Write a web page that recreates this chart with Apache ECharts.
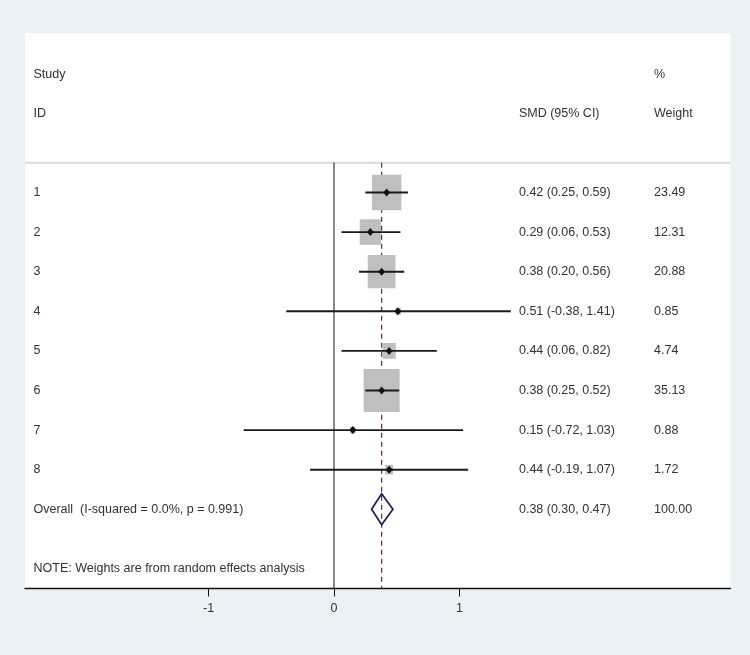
<!DOCTYPE html>
<html><head><meta charset="utf-8">
<script src="https://cdn.jsdelivr.net/npm/echarts@6/dist/echarts.min.js"></script>
<style>html,body{margin:0;padding:0;background:#eaf2f5;}#c{width:750px;height:655px;}</style>
</head><body><div id="c"></div>
<script>
// ---- data ----
const studyIds = ['1','2','3','4','5','6','7','8'];
const smd      = [0.42, 0.29, 0.38, 0.51, 0.44, 0.38, 0.15, 0.44];
const ciLow    = [0.25, 0.06, 0.20, -0.38, 0.06, 0.25, -0.72, -0.19];
const ciHigh   = [0.59, 0.53, 0.56, 1.41, 0.82, 0.52, 1.03, 1.07];
const weights  = [23.49, 12.31, 20.88, 0.85, 4.74, 35.13, 0.88, 1.72];
const overall  = {label:'Overall  (I-squared = 0.0%, p = 0.991)', smd:0.38, lo:0.30, hi:0.47, weight:100.00};
const note     = 'NOTE: Weights are from random effects analysis';
const xTicks   = [-1, 0, 1];

const fmt = v => v.toFixed(2);
const ciText = (m,l,h) => fmt(m)+' ('+fmt(l)+', '+fmt(h)+')';

const rows = studyIds.map((id,i)=>[i+1, smd[i], ciLow[i], ciHigh[i], weights[i], i]);

const FONT = '"Liberation Sans", Arial, sans-serif';
const FS = 12.5;
const TXT = '#333333';
const XMIN = -2.464, XMAX = 3.162;
const YMIN = -3.02, YMAX = 11.0;
const COL_LABEL = -2.396, COL_SMD = 1.475, COL_W = 2.552;

function txt(x, y, s){
  return {type:'text', x:x, y:y, style:{text:s, fill:TXT, font: FS+'px '+FONT, verticalAlign:'middle', align:'left'}};
}

const chart = echarts.init(document.getElementById('c'), null, {renderer:'canvas'});
chart.setOption({
  backgroundColor:'#eaf2f5',
  animation:false,
  grid:{left:25, right:19.5, top:33.3, bottom:66.5, show:true, backgroundColor:'#ffffff', borderWidth:0},
  xAxis:{type:'value', min:XMIN, max:XMAX,
    axisLine:{show:true, onZero:false, lineStyle:{color:'#111', width:1.4}},
    axisTick:{show:true, customValues:xTicks, length:8, lineStyle:{color:'#111', width:1}},
    axisLabel:{show:true, customValues:xTicks, color:TXT, fontSize:FS, fontFamily:FONT, margin:14},
    splitLine:{show:false}},
  yAxis:{type:'value', inverse:true, min:YMIN, max:YMAX, show:false},
  series:[
    { // header, reference lines, overall
      type:'custom', silent:true, clip:false,
      data:[[0]],
      renderItem:function(params, api){
        const left = api.coord([XMIN,0])[0], right = api.coord([XMAX,0])[0];
        const yTop = api.coord([0,0.247])[1], yBot = api.coord([0,YMAX])[1];
        const x0 = api.coord([0,0])[0], xo = api.coord([overall.smd,0])[0];
        const ch = [];
        ch.push({type:'line', shape:{x1:left,y1:yTop,x2:right,y2:yTop}, style:{stroke:'#d9d9d9', lineWidth:2}});
        ch.push({type:'line', shape:{x1:x0,y1:yTop,x2:x0,y2:yBot}, style:{stroke:'#111', lineWidth:1}});
        ch.push({type:'line', shape:{x1:xo,y1:yTop,x2:xo,y2:yBot}, style:{stroke:'#8b1a2a', lineWidth:1.2, lineDash:[5,4]}});
        const lx = api.coord([COL_LABEL,0])[0], sx = api.coord([COL_SMD,0])[0], wx = api.coord([COL_W,0])[0];
        ch.push(txt(lx, api.coord([0,-1.99])[1], 'Study'));
        ch.push(txt(lx, api.coord([0,-1.0])[1], 'ID'));
        ch.push(txt(sx, api.coord([0,-1.0])[1], 'SMD (95% CI)'));
        ch.push(txt(wx, api.coord([0,-1.99])[1], '%'));
        ch.push(txt(wx, api.coord([0,-1.0])[1], 'Weight'));
        ch.push(txt(lx, api.coord([0,10.5])[1], note));
        const oy = api.coord([0,9])[1];
        const ol = api.coord([overall.lo,0])[0], oh = api.coord([overall.hi,0])[0];
        ch.push({type:'polygon', shape:{points:[[ol,oy],[xo,oy-15.5],[oh,oy],[xo,oy+15.5]]}, style:{fill:'rgba(0,0,0,0)', stroke:'#1c1c5c', lineWidth:1.7}});
        ch.push(txt(lx, oy, overall.label));
        ch.push(txt(sx, oy, ciText(overall.smd, overall.lo, overall.hi)));
        ch.push(txt(wx, oy, overall.weight.toFixed(2)));
        return {type:'group', children:ch};
      }
    },
    { // studies
      type:'custom', silent:true, clip:false,
      data:rows,
      encode:{x:1, y:0},
      renderItem:function(params, api){
        const r = api.value(0), m = api.value(1), lo = api.value(2), hi = api.value(3), w = api.value(4);
        const c = api.coord([m, r]);
        const pl = api.coord([lo, r]), ph = api.coord([hi, r]);
        const bw = 6.074*Math.sqrt(w), bh = bw*1.2;
        const lx = api.coord([COL_LABEL,0])[0], sx = api.coord([COL_SMD,0])[0], wx = api.coord([COL_W,0])[0];
        return {type:'group', children:[
          {type:'rect', shape:{x:c[0]-bw/2, y:c[1]-bh/2, width:bw, height:bh}, style:{fill:'#bfbfbf'}},
          {type:'line', shape:{x1:pl[0], y1:c[1], x2:ph[0], y2:c[1]}, style:{stroke:'#1a1a1a', lineWidth:1.9}},
          {type:'polygon', shape:{points:[[c[0]-3.4,c[1]],[c[0],c[1]-4],[c[0]+3.4,c[1]],[c[0],c[1]+4]]}, style:{fill:'#111'}},
          txt(lx, c[1], studyIds[api.value(5)]),
          txt(sx, c[1], ciText(m, lo, hi)),
          txt(wx, c[1], w.toFixed(2))
        ]};
      }
    }
  ]
});
</script></body></html>
